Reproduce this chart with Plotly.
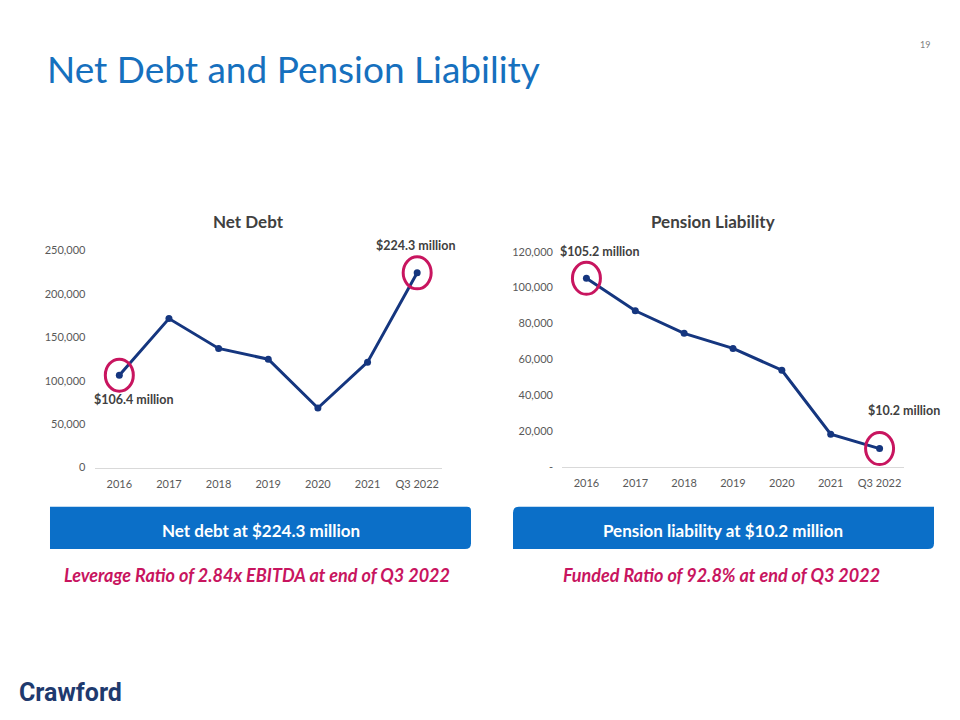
import plotly.graph_objects as go

categories = ["2016", "2017", "2018", "2019", "2020", "2021", "Q3 2022"]
net_debt = [106400, 171600, 137200, 124800, 68600, 121400, 224300]
pension = [105200, 87100, 74500, 66100, 53900, 18200, 10200]

nd_ticks = [0, 50000, 100000, 150000, 200000, 250000]
nd_ticktext = ["0", "50,000", "100,000", "150,000", "200,000", "250,000"]
pl_ticks = [0, 20000, 40000, 60000, 80000, 100000, 120000]
pl_ticktext = ["-", "20,000", "40,000", "60,000", "80,000", "100,000", "120,000"]

W, H = 960, 720
NAVY = "#15367F"
MAGENTA = "#C8155F"
BLUE = "#0B6FC8"
TITLE_BLUE = "#1670BE"
GRAY = "#595959"
DARK = "#404040"
FONT = "Lato"


def px(x):
    return x / W


def py(y):
    return 1 - y / H


fig = go.Figure()

fig.add_trace(go.Scatter(x=categories, y=net_debt, mode="lines+markers",
                         line=dict(color=NAVY, width=3),
                         marker=dict(color=NAVY, size=7),
                         xaxis="x", yaxis="y", showlegend=False, hoverinfo="x+y"))
fig.add_trace(go.Scatter(x=categories, y=pension, mode="lines+markers",
                         line=dict(color=NAVY, width=3),
                         marker=dict(color=NAVY, size=7),
                         xaxis="x2", yaxis="y2", showlegend=False, hoverinfo="x+y"))

axis_common = dict(showgrid=False, zeroline=False, fixedrange=True,
                   tickfont=dict(family=FONT, size=11, color=GRAY))

fig.update_layout(
    width=W, height=H,
    margin=dict(l=0, r=0, t=0, b=0),
    paper_bgcolor="white", plot_bgcolor="white",
    xaxis=dict(domain=[px(94.5), px(442)], type="category", range=[-0.5, 6.5],
               showline=True, linecolor="#D9D9D9", linewidth=1, ticks="",
               ticklabelstandoff=6, anchor="y", **axis_common),
    yaxis=dict(domain=[py(469), py(248)], range=[0, 250000], tickvals=nd_ticks,
               ticktext=nd_ticktext, showline=False, ticks="", ticklabelstandoff=8,
               anchor="x", **axis_common),
    xaxis2=dict(domain=[px(562), px(904)], type="category", range=[-0.5, 6.5],
                showline=True, linecolor="#D9D9D9", linewidth=1, ticks="",
                ticklabelstandoff=6, anchor="y2", **axis_common),
    yaxis2=dict(domain=[py(468.3), py(249.3)], range=[0, 120000], tickvals=pl_ticks,
                ticktext=pl_ticktext, showline=False, ticks="", ticklabelstandoff=8,
                anchor="x2", **axis_common),
)

shapes = []
# highlight circles around first and last points
for xa, ya, vals in (("x", "y", net_debt), ("x2", "y2", pension)):
    for idx in (0, len(categories) - 1):
        shapes.append(dict(type="circle", xref=xa, yref=ya,
                           xsizemode="pixel", ysizemode="pixel",
                           xanchor=idx, yanchor=vals[idx],
                           x0=-14, x1=14, y0=-16, y1=16,
                           line=dict(color=MAGENTA, width=3),
                           fillcolor="rgba(0,0,0,0)", layer="above"))


def rounded_box(x0, y0, x1, y1, r_tl, r_tr, r_br, r_bl):
    # pixel coords -> paper path
    def P(x, y):
        return f"{px(x):.5f},{py(y):.5f}"
    d = f"M {P(x0 + r_tl, y0)} L {P(x1 - r_tr, y0)} Q {P(x1, y0)} {P(x1, y0 + r_tr)} "
    d += f"L {P(x1, y1 - r_br)} Q {P(x1, y1)} {P(x1 - r_br, y1)} "
    d += f"L {P(x0 + r_bl, y1)} Q {P(x0, y1)} {P(x0, y1 - r_bl)} "
    d += f"L {P(x0, y0 + r_tl)} Q {P(x0, y0)} {P(x0 + r_tl, y0)} Z"
    return d


shapes.append(dict(type="path", xref="paper", yref="paper",
                   path=rounded_box(50, 509, 471, 552, 0, 4, 6, 0),
                   fillcolor=BLUE, line=dict(width=0), layer="below"))
shapes.append(dict(type="path", xref="paper", yref="paper",
                   path=rounded_box(513, 509, 934, 552, 6, 0, 6, 0),
                   fillcolor=BLUE, line=dict(width=0), layer="below"))
fig.update_layout(shapes=shapes)

ann = []


def text(x, y, s, size, color, bold=False, italic=False, xanchor="center", family=FONT):
    t = s
    if bold:
        t = f"<b>{t}</b>"
    if italic:
        t = f"<i>{t}</i>"
    ann.append(dict(x=px(x), y=py(y), xref="paper", yref="paper", text=t,
                    showarrow=False, xanchor=xanchor, yanchor="middle",
                    font=dict(family=family, size=size, color=color)))


text(45, 63, "Net Debt and Pension Liability", 37, TITLE_BLUE, xanchor="left", family="Lato")
text(925, 38, "19", 9, "#7F7F7F")
text(248, 218, "Net Debt", 17, DARK, bold=True)
text(713, 218, "Pension Liability", 17, DARK, bold=True)

# data callouts
callout_font = dict(family=FONT, size=12.5, color=DARK)
ann.append(dict(x=0, y=net_debt[0], xref="x", yref="y", text="<b>$106.4 million</b>",
                showarrow=False, xanchor="center", yanchor="middle", xshift=15, yshift=-24,
                font=callout_font))
ann.append(dict(x=6, y=net_debt[6], xref="x", yref="y", text="<b>$224.3 million</b>",
                showarrow=False, xanchor="center", yanchor="middle", xshift=-1, yshift=27,
                font=callout_font))
ann.append(dict(x=0, y=pension[0], xref="x2", yref="y2", text="<b>$105.2 million</b>",
                showarrow=False, xanchor="center", yanchor="middle", xshift=14, yshift=27,
                font=callout_font))
ann.append(dict(x=6, y=pension[6], xref="x2", yref="y2", text="<b>$10.2 million</b>",
                showarrow=False, xanchor="center", yanchor="middle", xshift=24, yshift=38,
                font=callout_font))

text(261, 533, "Net debt at $224.3 million", 17, "white", bold=True)
text(723, 533, "Pension liability at $10.2 million", 17, "white", bold=True)
text(257, 578, "Leverage Ratio of 2.84x EBITDA at end of Q3 2022", 18, MAGENTA, bold=True, italic=True)
text(721, 578, "Funded Ratio of 92.8% at end of Q3 2022", 18, MAGENTA, bold=True, italic=True)
text(17, 698, "Crawford", 25, "#1F3A6E", bold=True, xanchor="left", family="Roboto")

fig.update_layout(annotations=ann)
fig.write_html("out.html")
